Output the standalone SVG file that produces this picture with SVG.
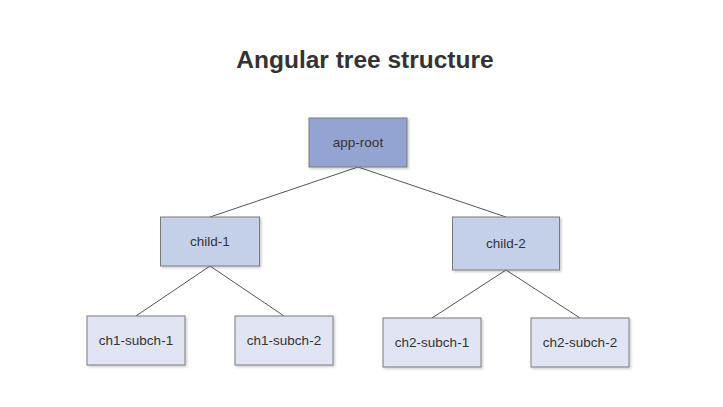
<svg xmlns="http://www.w3.org/2000/svg" width="723" height="407" viewBox="0 0 723 407">
<defs>
<filter id="sh" x="-10%" y="-10%" width="130%" height="130%">
<feDropShadow dx="1.5" dy="1.5" stdDeviation="1" flood-color="#000" flood-opacity="0.2"/>
</filter>
<style>
.n rect{stroke:#7a7a7a;stroke-width:1;filter:url(#sh)}
.n text{font-family:"Liberation Sans",Arial,sans-serif;font-size:13.5px;fill:#333;text-anchor:middle;dominant-baseline:central}
.l0 rect{fill:#93a4d3}
.l1 rect{fill:#c4d0e8}
.l2 rect{fill:#e1e5f3}
.c line{stroke:#555;stroke-width:1}
</style>
</defs>
<rect width="723" height="407" fill="#fff"/>
<text x="365" y="68" font-family="Liberation Sans,Arial,sans-serif" font-size="24.5" font-weight="bold" fill="#333" text-anchor="middle">Angular tree structure</text>
<g class="c">
<line x1="358" y1="167" x2="210" y2="217"/>
<line x1="358" y1="167" x2="506" y2="217"/>
<line x1="210" y1="266" x2="136" y2="316"/>
<line x1="210" y1="266" x2="284" y2="316"/>
<line x1="506" y1="270" x2="432" y2="318"/>
<line x1="506" y1="270" x2="580" y2="318"/>
</g>
<g id="app-root" class="n l0"><rect x="309" y="118" width="98" height="49"/><text x="358" y="142.5">app-root</text></g>
<g id="child-1" class="n l1"><rect x="160.5" y="217" width="99" height="49"/><text x="210" y="241.5">child-1</text></g>
<g id="child-2" class="n l1"><rect x="452.5" y="217" width="107" height="53"/><text x="506" y="243.5">child-2</text></g>
<g id="ch1-subch-1" class="n l2"><rect x="87" y="316" width="98" height="49"/><text x="136" y="340.5">ch1-subch-1</text></g>
<g id="ch1-subch-2" class="n l2"><rect x="235" y="316" width="98" height="49"/><text x="284" y="340.5">ch1-subch-2</text></g>
<g id="ch2-subch-1" class="n l2"><rect x="383" y="318" width="98" height="49"/><text x="432" y="342.5">ch2-subch-1</text></g>
<g id="ch2-subch-2" class="n l2"><rect x="531" y="318" width="98" height="49"/><text x="580" y="342.5">ch2-subch-2</text></g>
</svg>
